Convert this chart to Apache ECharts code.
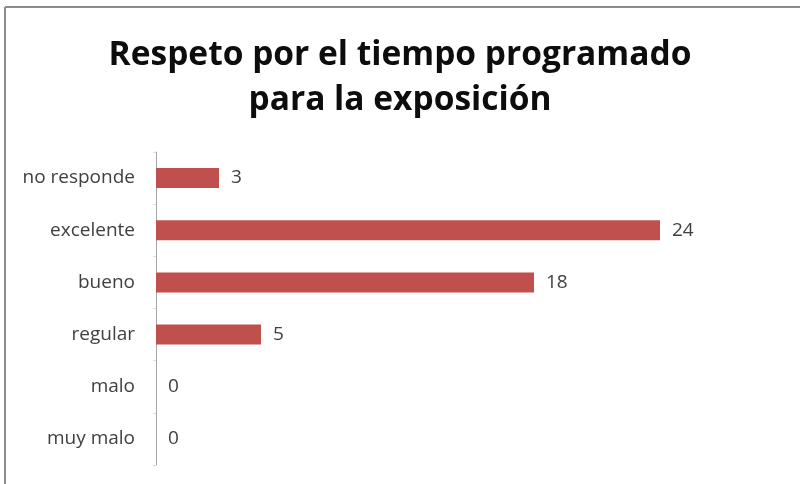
<!DOCTYPE html>
<html>
<head>
<meta charset="utf-8">
<script src="https://cdn.jsdelivr.net/npm/echarts@6/dist/echarts.min.js"></script>
<style>
html,body{margin:0;padding:0;background:#fff;}
#chart{width:800px;height:484px;}
</style>
</head>
<body>
<div id="chart"></div>
<script>
var titleText = 'Respeto por el tiempo programado\npara la exposición';
var categories = ['no responde', 'excelente', 'bueno', 'regular', 'malo', 'muy malo'];
var values = [3, 24, 18, 5, 0, 0];
var axisMax = 30;

var chart = echarts.init(document.getElementById('chart'), null, {renderer: 'canvas'});
chart.setOption({
  backgroundColor: '#ffffff',
  animation: false,
  title: {
    text: titleText,
    left: 'center',
    top: 28,
    textStyle: {
      fontFamily: 'Open Sans',
      fontWeight: 'bold',
      fontSize: 33.5,
      lineHeight: 45,
      color: '#0d0d0d'
    }
  },
  grid: {left: 156, right: 14, top: 152, bottom: 19, containLabel: false},
  xAxis: {
    type: 'value',
    min: 0,
    max: axisMax,
    show: false
  },
  yAxis: {
    type: 'category',
    data: categories,
    inverse: true,
    axisLine: {show: true, lineStyle: {color: '#a6a6a6', width: 1}},
    axisTick: {show: true, length: 3, lineStyle: {color: '#dcdcdc'}},
    axisLabel: {
      margin: 21,
      fontFamily: 'Open Sans',
      fontSize: 19,
      color: '#404040'
    },
    splitLine: {show: false}
  },
  series: [{
    type: 'bar',
    data: values,
    barWidth: 20,
    itemStyle: {color: '#c0504d'},
    label: {
      show: true,
      position: 'right',
      distance: 12,
      fontFamily: 'Open Sans',
      fontSize: 19,
      color: '#404040'
    }
  }],
  graphic: [
    {type: 'line', shape: {x1: 5, y1: 7, x2: 800, y2: 7}, style: {stroke: '#8c8c8c', lineWidth: 2}},
    {type: 'line', shape: {x1: 5, y1: 7, x2: 5, y2: 484}, style: {stroke: '#8c8c8c', lineWidth: 2}}
  ]
});
</script>
</body>
</html>
